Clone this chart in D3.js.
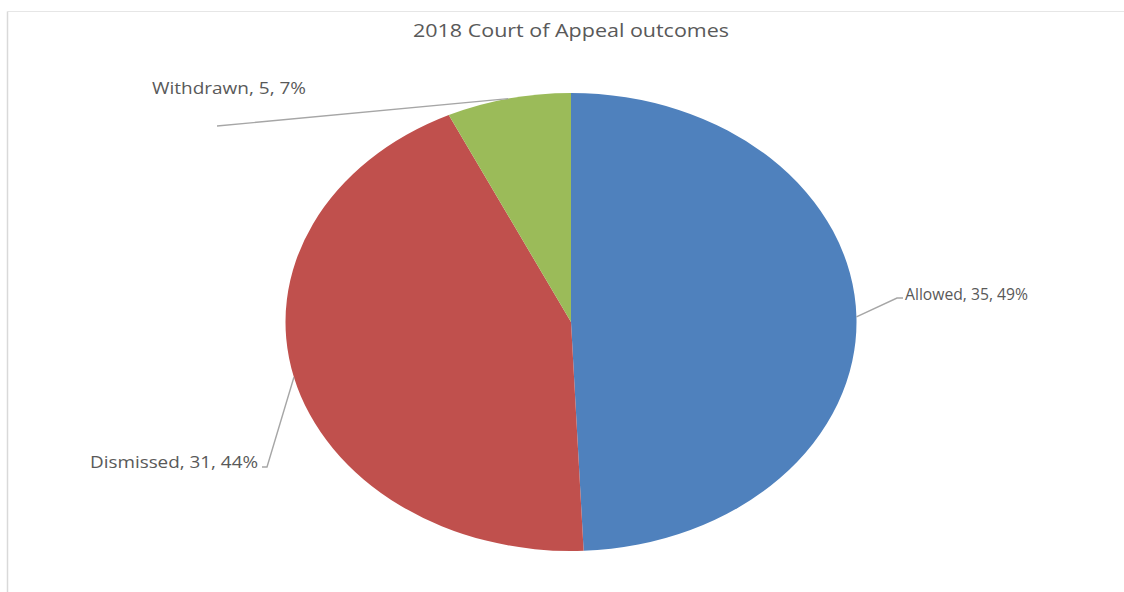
<!DOCTYPE html>
<html>
<head>
<meta charset="utf-8">
<script src="https://d3js.org/d3.v7.min.js"></script>
<style>
  html, body { margin: 0; padding: 0; background: #fff; }
  svg { display: block; }
  text { font-family: "Open Sans", "Liberation Sans", sans-serif; fill: #595959; }
</style>
</head>
<body>
<svg id="chart" width="1124" height="592"></svg>
<script>
const title = "2018 Court of Appeal outcomes";
const categories = ["Allowed", "Dismissed", "Withdrawn"];
const values = [35, 31, 5];
const colors = ["#4F81BD", "#C0504D", "#9BBB59"];

const W = 1124, H = 592;
const cx = 571, cy = 322, rx = 285.5, ry = 229;

const svg = d3.select("#chart");

// chart frame
svg.append("line").attr("x1", 7.5).attr("y1", 11.5).attr("x2", W).attr("y2", 11.5)
  .attr("stroke", "#e6e6e6").attr("stroke-width", 1);
svg.append("line").attr("x1", 7.5).attr("y1", 11.5).attr("x2", 7.5).attr("y2", H)
  .attr("stroke", "#d9d9d9").attr("stroke-width", 1.5);

// title
svg.append("text").attr("x", cx).attr("y", 37).attr("text-anchor", "middle")
  .attr("font-size", 18.5).attr("textLength", 316).attr("lengthAdjust", "spacingAndGlyphs")
  .text(title);

const total = d3.sum(values);
const data = categories.map((c, i) => ({ name: c, value: values[i], color: colors[i] }));
const pie = d3.pie().value(d => d.value).sort(null);
const arcs = pie(data);
const arc = d3.arc().innerRadius(0).outerRadius(rx);

const g = svg.append("g").attr("transform", `translate(${cx},${cy}) scale(1,${ry / rx})`);
g.selectAll("path").data(arcs).enter().append("path")
  .attr("d", arc).attr("fill", d => d.data.color);

// label layout (positions of label text; leader starts from the slice edge)
const labelPos = {
  "Allowed":   { end: [897, 298], hook: [903, 298], tx: 905, ty: 300, anchor: "start", w: 123 },
  "Dismissed": { end: [267, 467], hook: [262, 467], tx: 258, ty: 468, anchor: "end", w: 168 },
  "Withdrawn": { end: [217, 126], hook: null, tx: 152, ty: 94, anchor: "start", w: 154 }
};

arcs.forEach(a => {
  const mid = (a.startAngle + a.endAngle) / 2;
  const sx = cx + rx * Math.sin(mid);
  const sy = cy - ry * Math.cos(mid);
  const L = labelPos[a.data.name];
  const pts = [[sx, sy], L.end];
  if (L.hook) pts.push(L.hook);
  svg.append("path").attr("d", d3.line()(pts))
    .attr("fill", "none").attr("stroke", "#a6a6a6").attr("stroke-width", 1.4);
  const pct = Math.round(a.data.value / total * 100);
  svg.append("text").attr("x", L.tx).attr("y", L.ty).attr("text-anchor", L.anchor)
    .attr("font-size", 16).attr("textLength", L.w).attr("lengthAdjust", "spacingAndGlyphs")
    .text(`${a.data.name}, ${a.data.value}, ${pct}%`);
});
</script>
</body>
</html>
